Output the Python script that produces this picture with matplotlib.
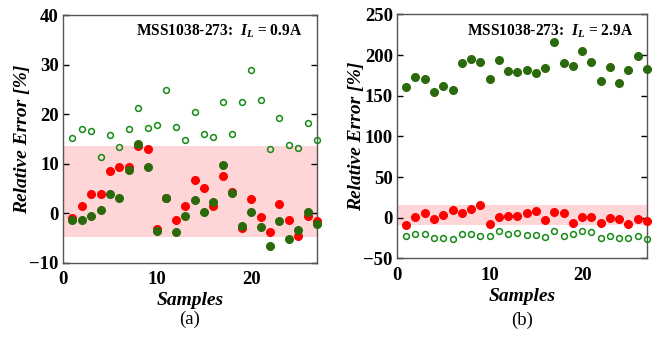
import matplotlib
matplotlib.use("Agg")
import matplotlib.pyplot as plt
import numpy as np

plt.rcParams['font.family'] = ['Liberation Serif', 'DejaVu Serif']
plt.rcParams['mathtext.fontset'] = 'custom'
plt.rcParams['mathtext.it'] = 'Liberation Serif:italic:bold'
plt.rcParams['mathtext.rm'] = 'Liberation Serif:bold'

samples = np.arange(1, 28)

# panel (a): I_L = 0.9A
a_open = [15.1, 17.0, 16.7, 11.3, 15.7, 13.3, 17.0, 21.2, 17.3, 17.9, 24.9, 17.5, 14.8, 20.5,
          16.1, 15.4, 22.5, 16.1, 22.5, 28.9, 22.9, 13.0, 19.3, 13.8, 13.1, 18.2, 14.8]
a_red = [-1.0, 1.5, 3.8, 3.8, 8.5, 9.3, 9.3, 13.5, 13.0, -3.2, 3.1, -1.3, 1.5, 6.8,
         5.1, 1.5, 7.6, 4.4, -2.9, 2.8, -0.7, -3.8, 1.8, -1.4, -4.6, -0.5, -1.5]
a_green = [-1.4, -1.4, -0.5, 0.6, 3.8, 3.1, 8.7, 13.9, 9.3, -3.5, 3.1, -3.8, -0.5, 2.7,
           0.3, 2.2, 9.8, 4.1, -2.5, 0.3, -2.7, -6.6, -1.6, -5.1, -3.3, 0.3, -2.1]
a_band = (-4.7, 13.5)

# panel (b): I_L = 2.9A
b_green = [160.6, 173.2, 170.4, 154.4, 161.4, 156.5, 190.4, 195.0, 191.6, 170.8, 193.4, 179.8,
           179.4, 181.1, 177.8, 183.9, 215.8, 189.7, 186.4, 204.4, 191.3, 167.9, 185.5, 165.8,
           181.1, 199.0, 182.3]
b_red = [-9.0, 0.9, 5.8, -2.0, 3.3, 9.1, 5.4, 10.3, 15.2, -8.1, 1.2, 2.5, 1.7, 5.4,
         8.6, -3.2, 7.4, 5.4, -6.5, 0.5, 0.9, -6.1, 0.0, -1.2, -7.4, -1.6, -4.1]
b_open = [-22.5, -20.0, -20.4, -24.9, -24.9, -25.8, -20.4, -20.0, -22.1, -22.1, -16.7, -19.6,
          -19.2, -20.9, -20.9, -23.3, -16.7, -22.9, -19.6, -16.3, -17.6, -24.9, -22.5, -25.3,
          -24.9, -22.5, -25.8]
b_band = (-8.6, 15.6)

RED = '#ff0000'
DKGREEN = '#2b6a0c'
OPGREEN = '#168a16'
BAND = '#ffd6d8'

fig = plt.figure(figsize=(6.58, 3.41), dpi=100)
ax1 = fig.add_axes([0.0957, 0.229, 0.386, 0.727])
ax2 = fig.add_axes([0.6033, 0.242, 0.380, 0.716])


def style(ax, ylim, yticks, title, label, band, lab_y, ttl_xy):
    ax.axhspan(band[0], band[1], color=BAND, lw=0, zorder=0)
    ax.set_xlim(0, 27)
    ax.set_ylim(*ylim)
    ax.set_yticks(yticks)
    ax.set_xticks([0, 10, 20])
    for s in ax.spines.values():
        s.set_color('#555555')
        s.set_linewidth(1.0)
    ax.tick_params(axis='y', direction='in', length=4, right=True, width=1.0,
                   labelsize=13.5, pad=3)
    ax.tick_params(axis='x', length=0, labelsize=13.5, pad=6)
    for t in ax.get_xticklabels() + ax.get_yticklabels():
        t.set_fontweight('bold')
    ax.set_xlabel('Samples', fontsize=14, fontweight='bold', style='italic', labelpad=3)
    ax.set_ylabel('Relative Error [%]', fontsize=14, fontweight='bold', style='italic',
                  labelpad=-1.5)
    ax.text(0.5, lab_y, label, transform=ax.transAxes, ha='center', va='center', fontsize=13.5)
    ax.text(ttl_xy[0], ttl_xy[1], title, transform=ax.transAxes, ha='right', va='center',
            fontsize=11.2, fontweight='bold')


style(ax1, (-10, 40), [-10, 0, 10, 20, 30, 40], r'MSS1038-273:  $I_L$ = 0.9A', '(a)', a_band,
      -0.226, (0.942, 0.935))
ax1.plot(samples, a_open, 'o', mfc='none', mec=OPGREEN, ms=4.2, mew=1.1, clip_on=False, zorder=3)
ax1.plot(samples, a_red, 'o', color=RED, ms=5.5, clip_on=False, zorder=3)
ax1.plot(samples, a_green, 'o', color=DKGREEN, ms=5.5, clip_on=False, zorder=4)

style(ax2, (-50, 250), [-50, 0, 50, 100, 150, 200, 250], r'MSS1038-273:  $I_L$ = 2.9A', '(b)', b_band,
      -0.252, (0.944, 0.93))
ax2.plot(samples, b_green, 'o', color=DKGREEN, ms=5.5, clip_on=False, zorder=4)
ax2.plot(samples, b_red, 'o', color=RED, ms=5.5, clip_on=False, zorder=3)
ax2.plot(samples, b_open, 'o', mfc='none', mec=OPGREEN, ms=4.2, mew=1.1, clip_on=False, zorder=3)

fig.savefig('out.png', dpi=100)
